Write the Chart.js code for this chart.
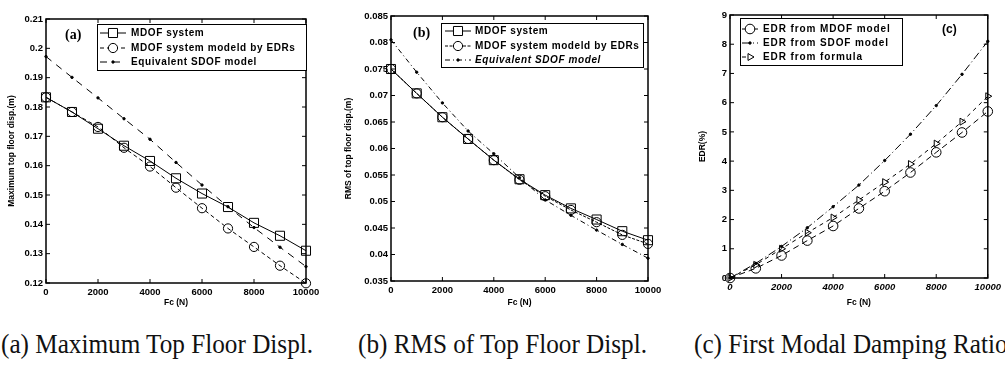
<!DOCTYPE html>
<html><head><meta charset="utf-8">
<script src="https://cdn.jsdelivr.net/npm/chart.js@4/dist/chart.umd.min.js"></script>
<style>
html,body{margin:0;padding:0;background:#fff;width:1005px;height:372px;overflow:hidden;position:relative}
canvas{position:absolute;top:0}
.cap{position:absolute;top:329px;font-family:"Liberation Serif",serif;font-size:28px;line-height:30px;white-space:nowrap;transform-origin:left top;transform:scaleX(0.9);color:#111}
</style></head><body>
<canvas id="ca" width="330" height="320" style="left:0"></canvas>
<canvas id="cb" width="335" height="320" style="left:335px"></canvas>
<canvas id="cc" width="335" height="320" style="left:670px"></canvas>
<div class="cap" style="left:1px">(a) Maximum Top Floor Displ.</div>
<div class="cap" style="left:358px">(b) RMS of Top Floor Displ.</div>
<div class="cap" style="left:694px">(c) First Modal Damping Ratio</div>
<script>
// ---------- data ----------
const fc = [0,1000,2000,3000,4000,5000,6000,7000,8000,9000,10000];
const xTickLabels = ['0','2000','4000','6000','8000','10000'];

const A_mdof = [0.1833,0.1783,0.1726,0.1668,0.1616,0.1557,0.1505,0.1459,0.1405,0.1361,0.1310];
const A_edr  = [0.1833,0.1783,0.1732,0.1661,0.1597,0.1525,0.1455,0.1386,0.1323,0.1259,0.1199];
const A_sdof = [0.1972,0.1901,0.1831,0.1760,0.1690,0.1611,0.1534,0.1460,0.1389,0.1322,0.1256];
const A_yTicks = ['0.12','0.13','0.14','0.15','0.16','0.17','0.18','0.19','0.2','0.21'];

const B_mdof = [0.0750,0.0704,0.0659,0.0618,0.0578,0.0542,0.0512,0.0487,0.0466,0.0444,0.0427];
const B_edr  = [0.0750,0.0704,0.0659,0.0618,0.0578,0.0541,0.0510,0.0484,0.0461,0.0437,0.0420];
const B_sdof = [0.0805,0.0744,0.0686,0.0633,0.0590,0.0545,0.0503,0.0474,0.0446,0.0419,0.0393];
const B_yTicks = ['0.035','0.04','0.045','0.05','0.055','0.06','0.065','0.07','0.075','0.08','0.085'];

const C_mdof    = [0,0.33,0.77,1.28,1.78,2.38,2.97,3.61,4.30,4.98,5.70];
const C_sdof    = [0,0.50,1.08,1.72,2.44,3.18,4.02,4.92,5.90,6.97,8.10];
const C_formula = [0,0.45,1.00,1.55,2.07,2.67,3.28,3.90,4.60,5.35,6.22];
const C_yTicks = ['0','1','2','3','4','5','6','7','8','9'];

// ---------- helpers ----------
const pts = arr => fc.map((x,i)=>({x:x, y:arr[i]}));
const SANS = '"Liberation Sans", Arial, sans-serif';

function drawMarker(ctx, style, r, rot, x, y, filled){
  ctx.save();
  ctx.translate(x,y);
  ctx.rotate((rot||0)*Math.PI/180);
  ctx.beginPath();
  if(style==='rect'){ const s=r*Math.SQRT1_2; ctx.rect(-s,-s,2*s,2*s); }
  else if(style==='triangle'){ ctx.moveTo(0,-r); ctx.lineTo(r*0.866,r*0.5); ctx.lineTo(-r*0.866,r*0.5); ctx.closePath(); }
  else { ctx.arc(0,0,r,0,Math.PI*2); }
  if(filled){ ctx.fill(); }
  ctx.stroke();
  ctx.restore();
}

const boxPlugin = {
  id:'mbox',
  afterDatasetsDraw(chart, args, o){
    const {ctx, chartArea:a} = chart;
    const xs = chart.scales.x, ys = chart.scales.y;
    ctx.save();
    ctx.strokeStyle='#000'; ctx.fillStyle='#000';
    ctx.lineWidth=1.5;
    ctx.strokeRect(a.left, a.top, a.right-a.left, a.bottom-a.top);
    ctx.lineWidth=1;
    const L=4;
    ctx.beginPath();
    xs.ticks.forEach(t=>{const p=xs.getPixelForValue(t.value);
      ctx.moveTo(p,a.bottom); ctx.lineTo(p,a.bottom-L);
      ctx.moveTo(p,a.top); ctx.lineTo(p,a.top+L);});
    ys.ticks.forEach(t=>{const p=ys.getPixelForValue(t.value);
      ctx.moveTo(a.left,p); ctx.lineTo(a.left+L,p);
      ctx.moveTo(a.right,p); ctx.lineTo(a.right-L,p);});
    ctx.stroke();
    // legend
    const lg = o.legend;
    if(lg){
      const [x1,y1,x2,y2] = lg.box;
      ctx.fillStyle='#fff';
      ctx.fillRect(x1,y1,x2-x1,y2-y1);
      ctx.strokeStyle='#000'; ctx.lineWidth=1;
      ctx.strokeRect(x1+0.5,y1+0.5,x2-x1,y2-y1);
      chart.data.datasets.forEach((d,i)=>{
        const yy = lg.rows[i];
        ctx.save();
        ctx.strokeStyle='#000'; ctx.fillStyle='#000';
        ctx.lineWidth=1;
        ctx.setLineDash(d.borderDash||[]);
        ctx.beginPath(); ctx.moveTo(lg.sample[0],yy); ctx.lineTo(lg.sample[1],yy); ctx.stroke();
        ctx.setLineDash([]);
        const mx=(lg.sample[0]+lg.sample[1])/2;
        ctx.fillStyle = d.pointBackgroundColor==='#000' ? '#000' : '#fff';
        drawMarker(ctx, d.pointStyle, d.pointRadius, d.pointRotation, mx, yy, true);
        ctx.fillStyle='#000';
        ctx.font = (lg.italic && lg.italic[i] ? 'italic ' : '') + 'bold ' + lg.fontSize + 'px ' + SANS;
        ctx.letterSpacing = lg.spacing;
        ctx.textBaseline='middle'; ctx.textAlign='left';
        ctx.fillText(d.label, lg.textX, yy);
        ctx.restore();
      });
    }
    const pl = o.panel;
    if(pl){
      ctx.fillStyle='#000';
      ctx.font = pl.font;
      ctx.textBaseline='middle'; ctx.textAlign='left';
      ctx.fillText(pl.text, pl.x, pl.y);
    }
    ctx.restore();
  }
};

function ds(label, arr, o){
  return Object.assign({
    label:label, data:pts(arr),
    borderColor:'#000', borderWidth:1,
    pointBorderColor:'#000', pointBackgroundColor:'rgba(0,0,0,0)',
    pointBorderWidth:1, pointRadius:4.5, pointStyle:'circle',
    tension:0, clip:false, fill:false
  }, o);
}

function makeChart(id, c){
  const W = document.getElementById(id).width, H = document.getElementById(id).height;
  const a = c.area;
  return new Chart(document.getElementById(id), {
    type:'line',
    data:{datasets:c.datasets},
    plugins:[boxPlugin],
    options:{
      responsive:false, animation:false, events:[],
      layout:{padding:{top:a.t, right:W-a.r, left:0, bottom:0}},
      plugins:{legend:{display:false}, tooltip:{enabled:false},
        mbox:{legend:c.legend, panel:c.panel}},
      scales:{
        x:{type:'linear', min:0, max:10000,
          grid:{display:false, drawTicks:false}, border:{display:false},
          ticks:{stepSize:2000, padding:4, color:'#000', maxRotation:0, autoSkip:false,
            font:{family:SANS, size:9.5, weight:'bold', style:c.xItalic?'italic':'normal'},
            callback:(v)=>xTickLabels[Math.round(v/2000)]},
          title:{display:true, text:'Fc (N)', color:'#000', padding:{top:0,bottom:12},
            font:{family:SANS, size:8.5, weight:'bold'}},
          afterFit:(s)=>{s.height = H - a.b;}
        },
        y:{type:'linear', min:c.yMin, max:c.yMax,
          grid:{display:false, drawTicks:false}, border:{display:false},
          ticks:{stepSize:c.yStep, padding:3, color:'#000', autoSkip:false,
            font:{family:SANS, size:9.5, weight:'bold'},
            callback:(v)=>c.yTicks[Math.round((v-c.yMin)/c.yStep)]},
          title:{display:true, text:c.yTitle, color:'#000', padding:{top:c.yTitlePad,bottom:0},
            font:{family:SANS, size:8.5, weight:'bold'}},
          afterFit:(s)=>{s.width = a.l;}
        }
      }
    }
  });
}

// (a)
makeChart('ca', {
  area:{l:46,t:19,r:306,b:283},
  yMin:0.12, yMax:0.21, yStep:0.01, yTicks:A_yTicks, yTitle:'Maximum top floor disp.(m)', yTitlePad:7,
  datasets:[
    ds('MDOF system', A_mdof, {pointStyle:'rect', pointRadius:6.4}),
    ds('MDOF system modeld by EDRs', A_edr, {borderDash:[4,3], pointRadius:4.6}),
    ds('Equivalent SDOF model', A_sdof, {borderDash:[7,6], pointRadius:1.2, pointBackgroundColor:'#000'})
  ],
  legend:{box:[97,24,306,70], rows:[33,48,62], sample:[100,126], textX:131, fontSize:10, spacing:'0.6px'},
  panel:{text:'(a)', x:65, y:35, font:'bold 14px "Liberation Serif", serif'}
});

// (b)
makeChart('cb', {
  area:{l:56,t:16,r:313,b:281},
  yMin:0.035, yMax:0.085, yStep:0.005, yTicks:B_yTicks, yTitle:'RMS of top floor disp.(m)', yTitlePad:9,
  datasets:[
    ds('MDOF system', B_mdof, {pointStyle:'rect', pointRadius:6.4}),
    ds('MDOF system modeld by EDRs', B_edr, {borderDash:[3,1.5], pointRadius:4.6}),
    ds('Equivalent SDOF model', B_sdof, {borderDash:[5,3,1,3], pointRadius:1.2, pointBackgroundColor:'#000'})
  ],
  legend:{box:[106,23,308,67], rows:[31,46,60], sample:[110,136], textX:140, fontSize:10, spacing:'0.6px', italic:[false,false,true]},
  panel:{text:'(b)', x:78, y:33, font:'bold 14px "Liberation Serif", serif'}
});

// (c)
makeChart('cc', {
  area:{l:60,t:15,r:319,b:278},
  yMin:0, yMax:9, yStep:1, yTicks:C_yTicks, yTitle:'EDR(%)', yTitlePad:28, xItalic:true,
  datasets:[
    ds('EDR from MDOF model', C_mdof, {borderDash:[6,4], pointRadius:4.8}),
    ds('EDR from SDOF model', C_sdof, {borderDash:[8,3,1,3], pointRadius:1.2, pointBackgroundColor:'#000'}),
    ds('EDR from formula', C_formula, {borderDash:[4,4], pointStyle:'triangle', pointRotation:90, pointRadius:4})
  ],
  legend:{box:[70,18,232,65], rows:[29,43,57], sample:[72,88], textX:93, fontSize:10, spacing:'0.9px'},
  panel:{text:'(c)', x:272, y:30, font:'bold 12px ' + SANS}
});
</script>
</body></html>
